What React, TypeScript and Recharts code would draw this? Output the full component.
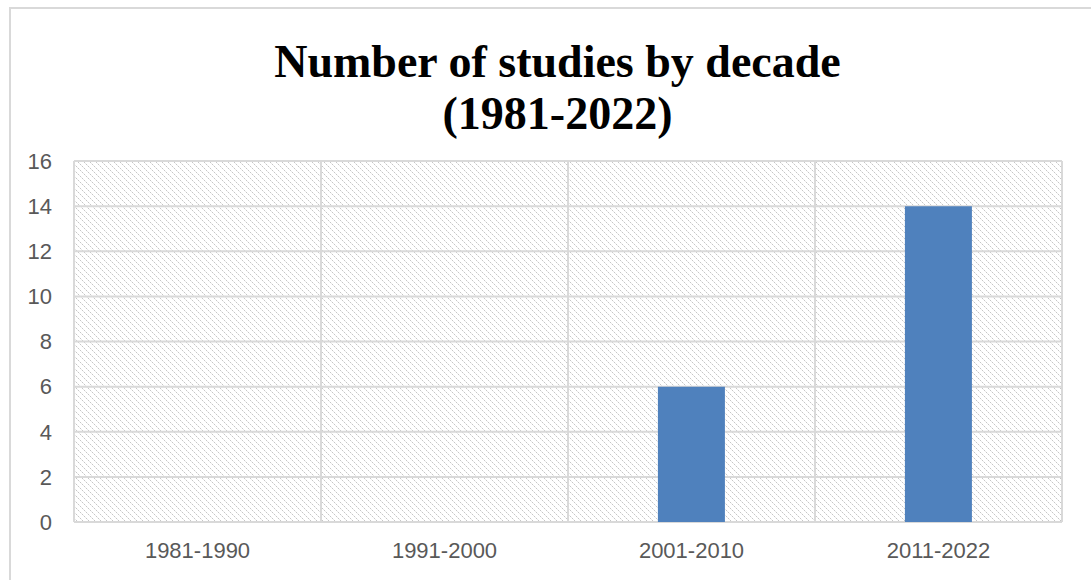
import { Bar, BarChart, CartesianGrid, XAxis, YAxis } from "recharts";

const decades = ["1981-1990", "1991-2000", "2001-2010", "2011-2022"];
const studies = [0, 0, 6, 14];
const yTicks = [0, 2, 4, 6, 8, 10, 12, 14, 16];

const data = decades.map((decade, i) => ({ decade, studies: studies[i] }));

const tickStyle = { fill: "#595959", fontSize: 22, fontFamily: "Liberation Sans, Arial, sans-serif" };

export default function App() {
  return (
    <div style={{ position: "absolute", left: 0, top: 0, width: 1091, height: 580, overflow: "hidden", background: "#fff" }}>
      <div
        style={{
          position: "absolute",
          left: 9,
          top: 7,
          width: 1120,
          height: 620,
          border: "2px solid #d9d9d9",
        }}
      />
      <div
        style={{
          position: "absolute",
          left: 0,
          top: 36,
          width: 1115,
          textAlign: "center",
          fontFamily: "Liberation Serif, DejaVu Serif, serif",
          fontWeight: "bold",
          fontSize: 46,
          lineHeight: "52px",
          color: "#000",
        }}
      >
        Number of studies by decade
        <br />
        (1981-2022)
      </div>
      <div style={{ position: "absolute", left: 0, top: 0 }}>
        <BarChart width={1091} height={580} data={data} margin={{ top: 161, right: 29, bottom: 0, left: 14 }} barCategoryGap="36.4%">
          <defs>
            <pattern id="hatch" width="6" height="6" patternUnits="userSpaceOnUse">
              <rect width="6" height="6" fill="#fff" />
              <rect x="0" y="0" width="1" height="1" fill="#c6c6c6" />
              <rect x="1" y="1" width="1" height="1" fill="#e8e8e8" />
              <rect x="2" y="2" width="1" height="1" fill="#c6c6c6" />
              <rect x="3" y="3" width="1" height="1" fill="#e8e8e8" />
              <rect x="4" y="4" width="1" height="1" fill="#c6c6c6" />
              <rect x="5" y="5" width="1" height="1" fill="#e8e8e8" />
            </pattern>
          </defs>
          <CartesianGrid
            fill="url(#hatch)"
            fillOpacity={1}
            stroke="#d9d9d9"
            strokeWidth={2}
            verticalCoordinatesGenerator={({ offset }: any) =>
              decades.map((_, i) => offset.left + (i * offset.width) / decades.length).concat(offset.left + offset.width)
            }
          />
          <XAxis
            dataKey="decade"
            height={58}
            axisLine={false}
            tickLine={false}
            tick={tickStyle}
            tickMargin={14}
          />
          <YAxis
            domain={[0, 16]}
            ticks={yTicks}
            width={60}
            axisLine={false}
            tickLine={false}
            tick={tickStyle}
            tickMargin={16}
            interval={0}
          />
          <Bar dataKey="studies" fill="#4f81bd" isAnimationActive={false} />
        </BarChart>
      </div>
    </div>
  );
}
